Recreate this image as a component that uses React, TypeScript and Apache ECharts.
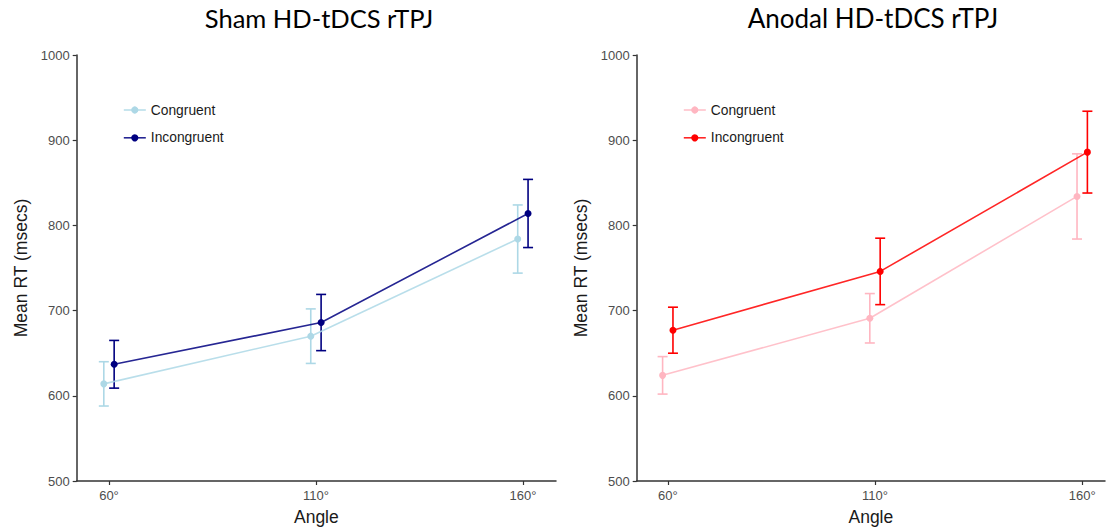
import React, { useEffect, useRef } from "react";
import * as echarts from "echarts";

const angles = [60, 110, 160];
const yMin = 500;
const yMax = 1000;

const shamCongruent = [614, 670, 784];
const shamCongruentErr = [26, 32, 40];
const shamIncongruent = [637, 686, 814];
const shamIncongruentErr = [28, 33, 40];

const anodalCongruent = [624, 691, 834];
const anodalCongruentErr = [22, 29, 50];
const anodalIncongruent = [677, 746, 886];
const anodalIncongruentErr = [27, 39, 48];

const titles = ["Sham HD-tDCS rTPJ", "Anodal HD-tDCS rTPJ"];
const seriesNames = ["Congruent", "Incongruent"];
const shamColors = ["#ADD8E6", "#000080"];
const anodalColors = ["#FFB6C1", "#FF0000"];

const DODGE = 1.25;
const FONT = 'Arial, "Liberation Sans", Helvetica, sans-serif';

function errorSeries(values: number[], errs: number[], offset: number, color: string, idx: number) {
  return {
    type: "custom",
    xAxisIndex: idx,
    yAxisIndex: idx,
    silent: true,
    z: 2,
    data: angles.map((a, i) => [a + offset, values[i] - errs[i], values[i] + errs[i]]),
    renderItem: (params: any, api: any) => {
      const x = api.value(0);
      const lo = api.coord([x, api.value(1)]);
      const hi = api.coord([x, api.value(2)]);
      const hw = 5;
      const style = { stroke: color, lineWidth: 1.6 };
      return {
        type: "group",
        children: [
          { type: "line", shape: { x1: lo[0], y1: lo[1], x2: hi[0], y2: hi[1] }, style },
          { type: "line", shape: { x1: lo[0] - hw, y1: lo[1], x2: lo[0] + hw, y2: lo[1] }, style },
          { type: "line", shape: { x1: hi[0] - hw, y1: hi[1], x2: hi[0] + hw, y2: hi[1] }, style },
        ],
      };
    },
  };
}

function lineSeries(name: string, values: number[], offset: number, color: string, idx: number) {
  return {
    type: "line",
    name,
    xAxisIndex: idx,
    yAxisIndex: idx,
    z: 3,
    data: angles.map((a, i) => [a + offset, values[i]]),
    symbol: "circle",
    symbolSize: 7,
    showSymbol: true,
    itemStyle: { color },
    lineStyle: { color, width: 1.6, opacity: 0.85 },
  };
}

function makeXAxis(idx: number, min: number, max: number) {
  return {
    type: "value",
    gridIndex: idx,
    min,
    max,
    name: "Angle",
    nameLocation: "middle",
    nameGap: 27,
    nameTextStyle: { fontFamily: FONT, fontSize: 17.5, color: "#1a1a1a" },
    axisLine: { show: true, lineStyle: { color: "#333333", width: 1.5 } },
    axisTick: { show: true, customValues: angles, length: 4, lineStyle: { color: "#333333", width: 1.2 } },
    axisLabel: {
      customValues: angles,
      formatter: (v: number) => `${v}°`,
      fontFamily: FONT,
      fontSize: 13,
      color: "#4d4d4d",
      margin: 8,
    },
    splitLine: { show: false },
  };
}

function makeYAxis(idx: number) {
  return {
    type: "value",
    gridIndex: idx,
    min: yMin,
    max: yMax,
    interval: 100,
    name: "Mean RT (msecs)",
    nameLocation: "middle",
    nameGap: 47,
    nameTextStyle: { fontFamily: FONT, fontSize: 17.5, color: "#1a1a1a" },
    axisLine: { show: true, lineStyle: { color: "#333333", width: 1.5 } },
    axisTick: { show: true, length: 4, lineStyle: { color: "#333333", width: 1.2 } },
    axisLabel: {
      formatter: (v: number) => String(v),
      fontFamily: FONT,
      fontSize: 13,
      color: "#4d4d4d",
      margin: 7,
    },
    splitLine: { show: false },
  };
}

function makeLegend(left: number, colors: string[]) {
  return {
    orient: "vertical",
    left,
    top: 98,
    itemWidth: 22,
    itemHeight: 9,
    itemGap: 13.8,
    textStyle: { fontFamily: FONT, fontSize: 13.8, color: "#1a1a1a" },
    data: seriesNames.map((n, i) => ({
      name: n,
      itemStyle: { color: colors[i] },
      lineStyle: { color: colors[i], width: 1.6 },
    })),
    selectedMode: false,
  };
}

export default function App() {
  const ref = useRef<HTMLDivElement>(null);
  useEffect(() => {
    if (!ref.current) return;
    const chart = echarts.init(ref.current, null, { renderer: "svg" });
    const titleStyle = { fontFamily: "Lato, sans-serif", fontSize: 25.5, fontWeight: "normal", color: "#000000" };
    chart.setOption({
      animation: false,
      backgroundColor: "#ffffff",
      title: [
        { text: titles[0], left: 314, top: 0, textAlign: "center", textStyle: titleStyle },
        { text: titles[1], left: 868, top: 0, textAlign: "center", textStyle: { ...titleStyle, fontSize: 26 } },
      ],
      legend: [makeLegend(118, shamColors), makeLegend(678, anodalColors)],
      grid: [
        { left: 76.7, top: 55, width: 479.3, height: 431.5, containLabel: false },
        { left: 636.7, top: 55, width: 468.3, height: 431.5, containLabel: false },
      ],
      xAxis: [makeXAxis(0, 52.2, 168), makeXAxis(1, 52.5, 165.5)],
      yAxis: [makeYAxis(0), makeYAxis(1)],
      series: [
        errorSeries(shamCongruent, shamCongruentErr, -DODGE, shamColors[0], 0),
        errorSeries(shamIncongruent, shamIncongruentErr, DODGE, shamColors[1], 0),
        lineSeries(seriesNames[0], shamCongruent, -DODGE, shamColors[0], 0),
        lineSeries(seriesNames[1], shamIncongruent, DODGE, shamColors[1], 0),
        errorSeries(anodalCongruent, anodalCongruentErr, -DODGE, anodalColors[0], 1),
        errorSeries(anodalIncongruent, anodalIncongruentErr, DODGE, anodalColors[1], 1),
        lineSeries(seriesNames[0], anodalCongruent, -DODGE, anodalColors[0], 1),
        lineSeries(seriesNames[1], anodalIncongruent, DODGE, anodalColors[1], 1),
      ],
    });
    return () => chart.dispose();
  }, []);
  return (
    <div
      ref={ref}
      style={{ position: "fixed", left: 0, top: 0, width: 1111, height: 531 }}
    />
  );
}
